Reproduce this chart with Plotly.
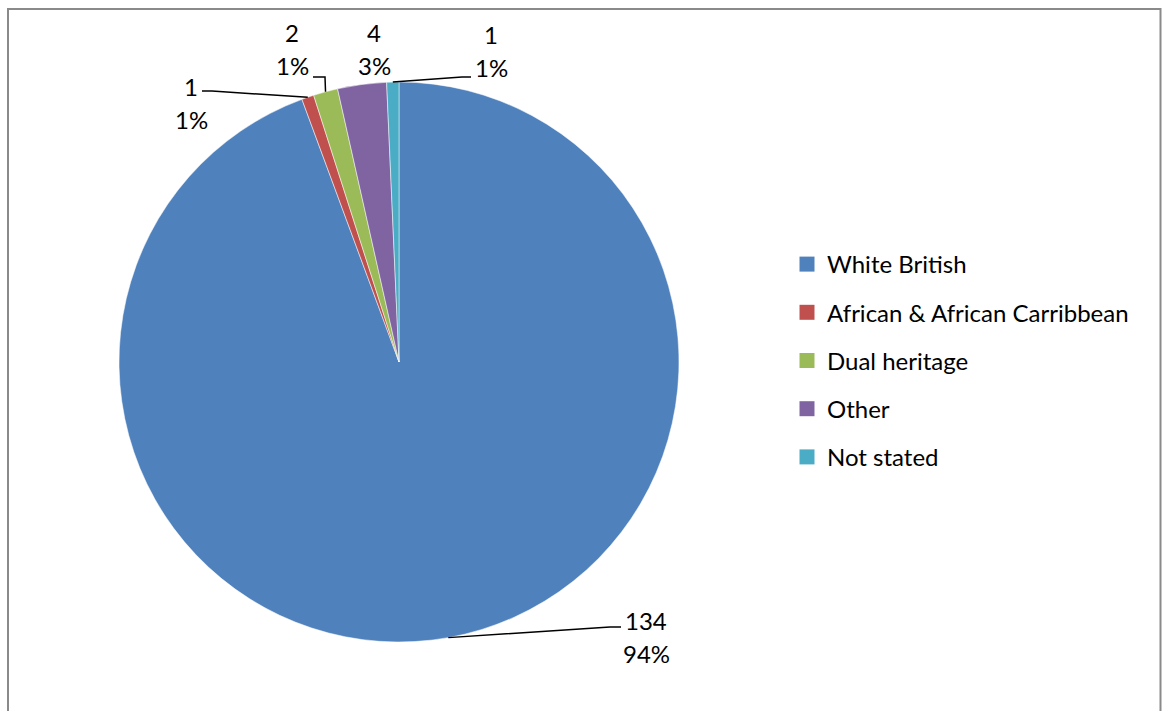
import math
import plotly.graph_objects as go

# Ethnicity breakdown
categories = ["White British", "African & African Carribbean", "Dual heritage", "Other", "Not stated"]
counts = [134, 1, 2, 4, 1]
colors = ["#4F81BD", "#C0504D", "#9BBB59", "#8064A2", "#4BACC6"]

W, H = 1162, 711
FONT = "Lato, Carlito, Calibri, sans-serif"
FSIZE = 24

# Pie geometry in pixels
CX, CY, R = 399, 362, 280

# Text placement for each data label (pixel centre of the count line) and the
# elbow / end of its leader line (None = no leader)
label_pos = [(646, 620), (191, 86), (292, 32), (374, 32), (491, 34)]
leader_bends = [
    [(610, 627), (621, 627)],
    [(212, 91), (202, 91)],
    [(325, 77), (313, 77)],
    None,
    [(462, 77), (471, 77)],
]
LINE_GAP = 33


def px(x):
    return x / W


def py(y):
    return 1 - y / H


fig = go.Figure()

fig.add_trace(go.Pie(
    labels=categories,
    values=counts,
    sort=False,
    direction="clockwise",
    rotation=0,
    marker=dict(colors=colors, line=dict(color="white", width=0.5)),
    textinfo="none",
    hoverinfo="label+value+percent",
    showlegend=False,
    domain=dict(x=[px(CX - R), px(CX + R)], y=[py(CY + R), py(CY - R)]),
))

# Legend entries, one group each so the spacing can be set
for i, (name, col) in enumerate(zip(categories, colors)):
    fig.add_trace(go.Scatter(
        x=[None], y=[None], mode="markers", name=name,
        marker=dict(symbol="square", size=15, color=col),
        legendgroup=f"g{i}", showlegend=True,
    ))

total = sum(counts)
annotations = []
shapes = []
cum = 0
for i, v in enumerate(counts):
    mid = (cum + v / 2) / total * 2 * math.pi
    cum += v
    ex = CX + R * math.sin(mid)
    ey = CY - R * math.cos(mid)
    pct = round(100 * v / total)
    lx, ly = label_pos[i]
    annotations.append(dict(x=px(lx), y=py(ly), xref="paper", yref="paper",
                            text=str(v), showarrow=False,
                            font=dict(family=FONT, size=FSIZE, color="black"),
                            xanchor="center", yanchor="middle"))
    annotations.append(dict(x=px(lx), y=py(ly + LINE_GAP), xref="paper", yref="paper",
                            text=f"{pct}%", showarrow=False,
                            font=dict(family=FONT, size=FSIZE, color="black"),
                            xanchor="center", yanchor="middle"))
    bends = leader_bends[i]
    if bends:
        pts = [(ex, ey)] + bends
        path = "M " + " L ".join(f"{px(a)},{py(b)}" for a, b in pts)
        shapes.append(dict(type="path", path=path, xref="paper", yref="paper",
                           line=dict(color="black", width=1.5)))

# Chart frame
shapes.append(dict(type="rect", xref="paper", yref="paper",
                   x0=px(8), x1=px(1160.5), y0=-0.2, y1=py(9),
                   line=dict(color="#8a8a8a", width=2), fillcolor="rgba(0,0,0,0)"))

fig.update_layout(
    width=W, height=H,
    margin=dict(l=0, r=0, t=0, b=0),
    paper_bgcolor="white",
    plot_bgcolor="white",
    xaxis=dict(visible=False),
    yaxis=dict(visible=False),
    annotations=annotations,
    shapes=shapes,
    legend=dict(
        x=px(787), y=py(242), xanchor="left", yanchor="top",
        font=dict(family=FONT, size=FSIZE, color="black"),
        traceorder="grouped", tracegroupgap=14,
        bgcolor="rgba(0,0,0,0)",
        itemclick=False, itemdoubleclick=False,
    ),
    hovermode=False,
)

fig.write_html("out.html")
